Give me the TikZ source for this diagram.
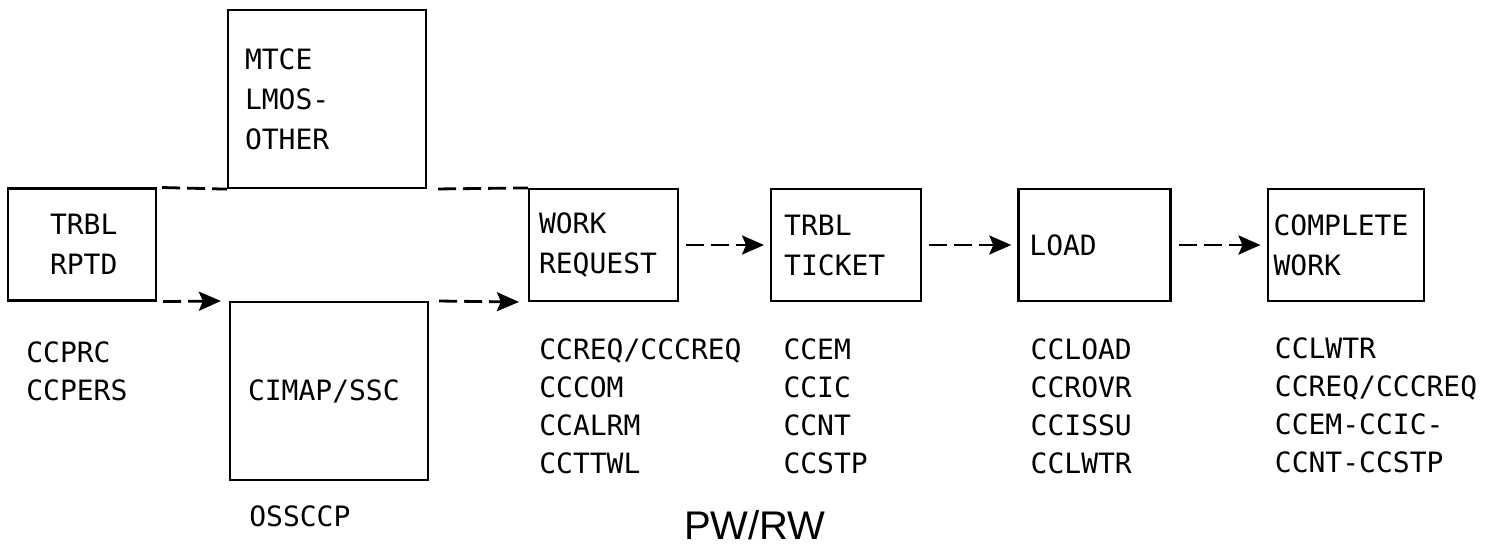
\documentclass[tikz,border=0pt]{standalone}
\usepackage{fontspec}
\setmainfont{Liberation Sans}
\newfontfamily\prtfont{DejaVu Sans Mono}
\usetikzlibrary{arrows.meta,positioning}

\begin{document}
\begin{tikzpicture}[
  x=0.5pt, y=-0.5pt,
  font=\prtfont\fontsize{14}{20}\selectfont,
  box/.style={draw, line width=1.1pt, align=left, minimum height=56pt,
              inner ysep=0pt},
  bigbox/.style={box, minimum height=89pt, inner xsep=9pt, text width=81pt},
  lst/.style={align=left, inner sep=0pt,
              font=\prtfont\fontsize{14}{19}\selectfont},
  flow/.style={dash pattern=on 9pt off 3.5pt, line width=1.4pt},
  arr/.style={flow, -{Stealth[length=11pt, width=9.5pt, inset=2pt]}}
]
\useasboundingbox (0,0) rectangle (1490,547);

% boxes
\node[box, inner xsep=21pt, text width=32pt] (rptd) at (82,244.5) {TRBL\\RPTD};
\node[bigbox, inner xsep=8.5pt, text width=82pt] (mtce) at (327,99)
  {MTCE\\LMOS-\\OTHER};
\node[bigbox] (cimap) at (329,391) {CIMAP/SSC};
\node[box, inner xsep=5pt, text width=64.5pt] (work) at (603.5,245)
  {WORK\\REQUEST};
\node[box, inner xsep=6.5pt, text width=62pt, right=45.5pt of work] (ticket)
  {TRBL\\TICKET};
\node[box, inner xsep=5.5pt, text width=65pt, right=47.5pt of ticket] (load)
  {LOAD};
\node[box, inner xsep=3pt, text width=72pt, right=47.5pt of load] (complete)
  {COMPLETE\\WORK};

% codes under the boxes
\node[lst, below right=20pt and 9.5pt of rptd.south west] (rptdcc)
  {CCPRC\\CCPERS};
\node[lst, below right=12pt and 10pt of cimap.south west] (cimapcc) {OSSCCP};
\node[lst, below right=18pt and 5.5pt of work.south west] (workcc)
  {CCREQ/CCCREQ\\CCCOM\\CCALRM\\CCTTWL};
\node[lst, below right=18pt and 6.5pt of ticket.south west] (ticketcc)
  {CCEM\\CCIC\\CCNT\\CCSTP};
\node[lst, below right=18pt and 6.5pt of load.south west] (loadcc)
  {CCLOAD\\CCROVR\\CCISSU\\CCLWTR};
\node[lst, below right=17.5pt and 4pt of complete.south west] (completecc)
  {CCLWTR\\CCREQ/CCCREQ\\CCEM-CCIC-\\CCNT-CCSTP};

\node[font=\rmfamily\fontsize{20}{24}\selectfont] (title) at (755,525) {PW/RW};

% flow
\draw[flow, shorten <=2.5pt] (rptd.north east) -- (mtce.south west);
\draw[flow, shorten <=5.5pt] (mtce.south east) -- (work.north west);
\draw[arr, shorten <=3pt, shorten >=4pt] (rptd.south east) -- (cimap.north west);
\draw[arr, shorten <=5pt, shorten >=4.5pt] (cimap.north east) -- (work.south west);
\draw[arr, shorten <=3.5pt, shorten >=3pt] (work) -- (ticket);
\draw[arr, shorten <=3.5pt, shorten >=3pt] (ticket) -- (load);
\draw[arr, shorten <=3.5pt, shorten >=3pt] (load) -- (complete);
\end{tikzpicture}
\end{document}
